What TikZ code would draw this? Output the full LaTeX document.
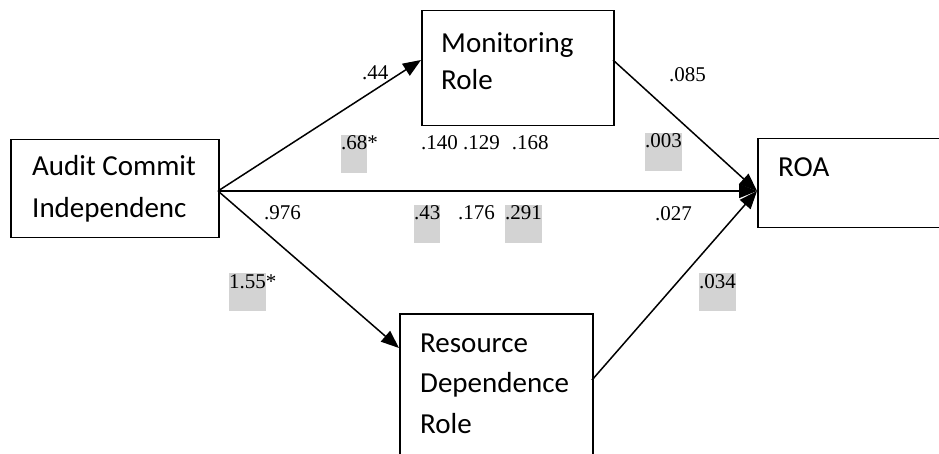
\documentclass[tikz,border=0pt]{standalone}
\usepackage{fontspec}
\setmainfont{Liberation Serif}
\newfontfamily\boxfont{Carlito}
\usetikzlibrary{arrows.meta}
\definecolor{hlgray}{RGB}{211,211,211}
\tikzset{
  box/.style={draw, line width=1.5pt, inner sep=0pt, anchor=north west},
  boxtext/.style={font=\boxfont\fontsize{29}{35}\selectfont, anchor=base west, inner sep=0pt},
  num/.style={font=\fontsize{21}{25}\selectfont, anchor=base west, inner sep=0pt},
  hl/.style={num, fill=hlgray, text height=15pt, text depth=23pt},
  link/.style={line width=1.5pt, -{Triangle[length=18pt,width=14pt]}}
}
\begin{document}
\begin{tikzpicture}[x=1pt,y=-1pt]
\clip (0,0) rectangle (939,454);
\fill[white] (0,0) rectangle (939,454);
% boxes
\node[box, minimum width=208pt, minimum height=98pt] (audit) at (10,139) {};
\node[box, minimum width=192pt, minimum height=115pt] (mon) at (421,10) {};
\node[box, minimum width=190pt, minimum height=89pt] (roa) at (757,138) {};
\node[box, minimum width=193pt, minimum height=160pt] (res) at (399,313) {};
% ports
\coordinate (audOut) at (218,191);
\coordinate (monIn) at (421,60);
\coordinate (monOut) at (613,60);
\coordinate (roaIn) at (757,191);
\coordinate (resIn) at (399,348);
\coordinate (resOut) at (592,380);
% connectors
\draw[link] (audOut) -- (monIn);
\draw[link] (audOut) -- (roaIn);
\draw[link] (audOut) -- (resIn);
\draw[link] (monOut) -- (roaIn);
\draw[link] (resOut) -- (roaIn);
% box texts
\node[boxtext] (a1) at (32,176) {Audit Commit};
\node[boxtext] (a2) at (32,218) {Independenc};
\node[boxtext] (m1) at (441,53) {Monitoring};
\node[boxtext] (m2) at (441,90) {Role};
\node[boxtext] (r1) at (778,177) {ROA};
\node[boxtext] (s1) at (420,352) {Resource};
\node[boxtext] (s2) at (420,392) {Dependence};
\node[boxtext] (s3) at (420,433) {Role};
% coefficients
\node[num] (n44) at (362,80) {.44};
\node[num] (n085) at (669,82) {.085};
\node[hl] (n68) at (341,150) {.68\rlap{*}};
\node[num] (n140) at (421,150) {.140 .129\hspace{12pt}.168};
\node[hl] (n003) at (645,148) {.003};
\node[num] (n976) at (264,220) {.976};
\node[hl] (n43) at (414,220) {.43};
\node[num] (n176) at (458,220) {.176};
\node[hl] (n291) at (505,220) {.291};
\node[num] (n027) at (655,221) {.027};
\node[hl] (n155) at (229,288) {1.55\rlap{*}};
\node[hl] (n034) at (699,288) {.034};
\end{tikzpicture}
\end{document}
